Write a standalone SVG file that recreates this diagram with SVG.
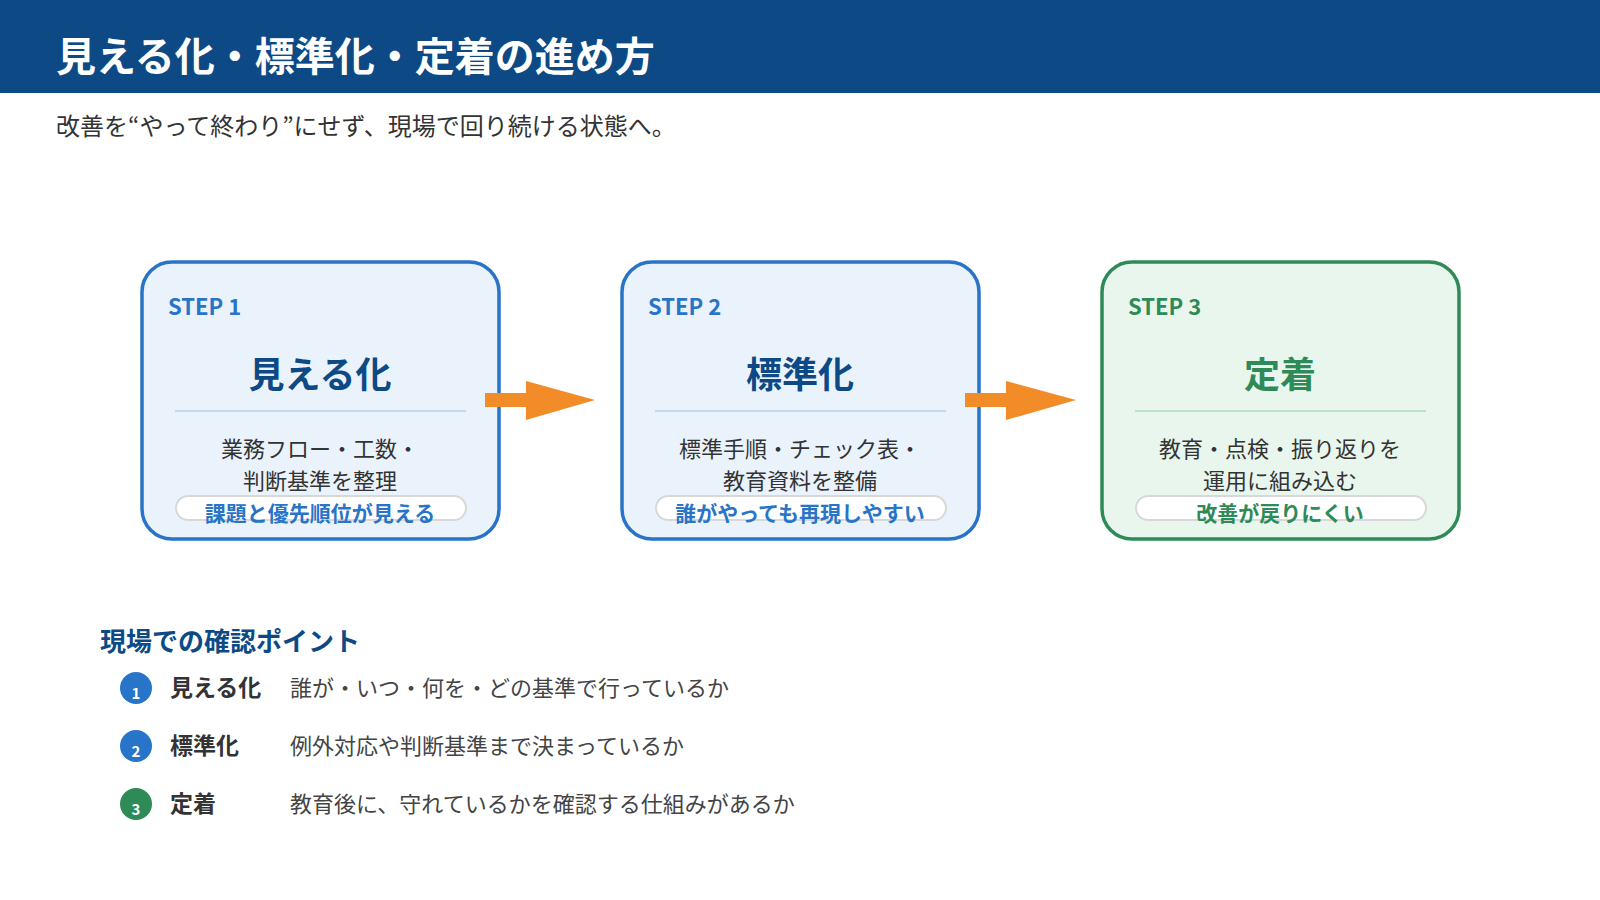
<svg xmlns="http://www.w3.org/2000/svg" width="1600" height="900" viewBox="0 0 1600 900">
<style>
text{font-family:"Noto Sans CJK JP","Noto Sans",sans-serif}
.box{stroke-width:3.5}
.b .box{fill:#eaf2fb;stroke:#2874c8}
.g .box{fill:#e9f6ed;stroke:#2e8b57}
.step{font-size:22px;font-weight:700}
.b .step,.b .pt{fill:#2874c8}
.g .step,.g .pt{fill:#2e8b57}
.ttl{font-size:36px;font-weight:700;text-anchor:middle}
.b .ttl{fill:#0d4a85}
.g .ttl{fill:#2e8b57}
.div{stroke-width:2}
.b .div{stroke:#c5d8ec}
.g .div{stroke:#bfe0c9}
.desc{font-size:22px;fill:#333;text-anchor:middle}
.pill{fill:#fff;stroke:#d8d8d8;stroke-width:2}
.pt{font-size:21px;font-weight:700;text-anchor:middle}
.arr{fill:#f28c28}
.lbl{font-size:23px;font-weight:700;fill:#333}
.ds{font-size:22px;fill:#444}
.num{font-size:15px;font-weight:700;fill:#fff;text-anchor:middle}
</style>
<rect width="1600" height="900" fill="#fff"/>
<g id="header">
<rect width="1600" height="93" fill="#0d4a85"/>
<text x="56" y="71" font-size="40" font-weight="700" fill="#fff">見える化・標準化・定着の進め方</text>
</g>
<text x="56" y="135" font-size="24" fill="#333">改善を“やって終わり”にせず、現場で回り続ける状態へ。</text>
<g id="step1" class="b">
<rect class="box" x="142" y="262" width="357" height="277" rx="30"/>
<text class="step" x="168" y="315">STEP 1</text>
<text class="ttl" x="320" y="388">見える化</text>
<line class="div" x1="175" y1="411" x2="466" y2="411"/>
<text class="desc" x="320" y="457">業務フロー・工数・</text>
<text class="desc" x="320" y="489">判断基準を整理</text>
<rect class="pill" x="176" y="496" width="290" height="24" rx="12"/>
<text class="pt" x="320" y="521">課題と優先順位が見える</text>
</g>
<g id="step2" class="b">
<rect class="box" x="622" y="262" width="357" height="277" rx="30"/>
<text class="step" x="648" y="315">STEP 2</text>
<text class="ttl" x="800" y="388">標準化</text>
<line class="div" x1="655" y1="411" x2="946" y2="411"/>
<text class="desc" x="800" y="457">標準手順・チェック表・</text>
<text class="desc" x="800" y="489">教育資料を整備</text>
<rect class="pill" x="656" y="496" width="290" height="24" rx="12"/>
<text class="pt" x="800" y="521">誰がやっても再現しやすい</text>
</g>
<g id="step3" class="g">
<rect class="box" x="1102" y="262" width="357" height="277" rx="30"/>
<text class="step" x="1128" y="315">STEP 3</text>
<text class="ttl" x="1280" y="388">定着</text>
<line class="div" x1="1135" y1="411" x2="1426" y2="411"/>
<text class="desc" x="1280" y="457">教育・点検・振り返りを</text>
<text class="desc" x="1280" y="489">運用に組み込む</text>
<rect class="pill" x="1136" y="496" width="290" height="24" rx="12"/>
<text class="pt" x="1280" y="521">改善が戻りにくい</text>
</g>
<g id="connectors">
<polygon class="arr" points="485,393 526,393 526,381 595,400 526,420 526,407 485,407"/>
<polygon class="arr" points="965,393 1006,393 1006,381 1076,400 1006,420 1006,407 965,407"/>
</g>
<g id="points">
<text x="100" y="651" font-size="26" font-weight="700" fill="#0d4a85">現場での確認ポイント</text>
<circle cx="136" cy="688" r="16" fill="#2874c8"/><text class="num" x="136" y="699">1</text>
<text class="lbl" x="170" y="696">見える化</text>
<text class="ds" x="290" y="696">誰が・いつ・何を・どの基準で行っているか</text>
<circle cx="136" cy="746" r="16" fill="#2874c8"/><text class="num" x="136" y="757">2</text>
<text class="lbl" x="170" y="754">標準化</text>
<text class="ds" x="290" y="754">例外対応や判断基準まで決まっているか</text>
<circle cx="136" cy="804" r="16" fill="#2e8b57"/><text class="num" x="136" y="815">3</text>
<text class="lbl" x="170" y="812">定着</text>
<text class="ds" x="290" y="812">教育後に、守れているかを確認する仕組みがあるか</text>
</g>
</svg>
